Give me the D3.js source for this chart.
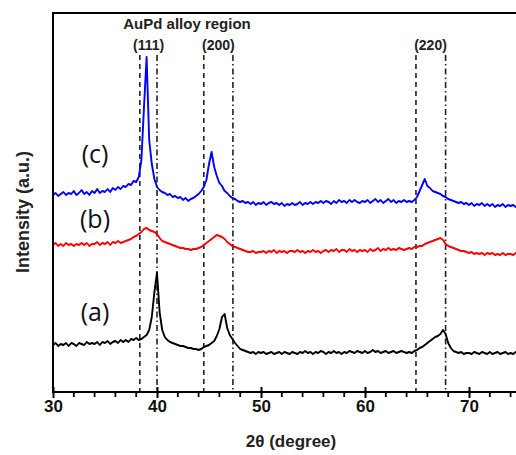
<!DOCTYPE html>
<html><head><meta charset="utf-8">
<script src="https://cdn.jsdelivr.net/npm/d3@7"></script>
<style>body{margin:0;background:#fff}svg{display:block}</style>
</head><body>
<svg id="chart" width="516" height="455"></svg>
<script>
// 2θ sampling grid: 30 to 75 step 0.25
const thetaStart = 30, thetaStep = 0.25;
const seriesC = [
197,199,196,198, 200,197,199,198, 201,197,199,202, 198,200,197,201, 199,203,199,201,
200,203,200,204, 202,205,203,206, 205,208,207,211, 210,215,232,285, 335,252,228,213,
205,202,200,199, 197,198,195,196, 194,195,192,194, 191,193,194,196, 198,201,205,212,
228,240,225,216, 209,206,201,199, 196,194,193,191, 190,191,189,190, 188,190,187,189,
188,190,187,189, 190,188,189,187, 189,186,188,187, 189,187,188,190, 187,189,188,190,
188,190,189,191, 189,191,190,188, 191,189,192,190, 191,189,192,190, 192,190,189,191,
190,192,189,191, 193,190,192,189, 191,193,190,192, 189,191,190,192, 190,191,190,192,
195,201,207,213, 206,204,201,200, 199,198,196,195, 193,192,191,190, 189,190,188,189,
187,189,186,188, 187,189,186,188, 186,188,185,187, 186,188,185,187, 186,187,185,186,
186];
const seriesB = [
147,149,146,148, 146,149,147,148, 146,148,147,149, 147,149,146,148, 148,150,147,149,
148,150,147,150, 149,151,149,150, 151,152,153,155, 156,158,160,163, 164,162,161,160,
158,154,151,150, 149,148,147,146, 145,144,144,143, 143,142,143,143, 144,145,147,149,
151,153,155,157, 156,155,153,150, 148,146,145,144, 143,142,141,140, 140,141,139,140,
140,141,139,141, 140,142,139,141, 140,141,139,141, 141,140,142,140, 141,139,141,140,
142,140,141,139, 141,142,140,142, 141,143,140,142, 142,140,143,141, 142,140,142,141,
142,140,143,141, 142,144,141,143, 142,144,142,143, 142,144,143,142, 143,144,143,145,
145,146,146,148, 149,150,151,152, 153,154,152,148, 146,145,144,143, 142,141,141,140,
139,140,138,139, 138,139,137,139, 138,139,137,138, 137,139,137,138, 138,137,139,138,
138];
const seriesA = [
47,49,46,48, 47,49,46,49, 48,46,49,48, 47,50,48,49, 48,50,47,50,
49,51,48,50, 51,49,52,50, 52,50,53,52, 54,52,53,55, 57,62,75,100,
119,80,62,55, 52,50,49,48, 47,46,46,45, 44,44,43,43, 42,43,45,46,
47,49,51,56, 63,75,78,64, 57,53,49,46, 43,42,41,40, 39,40,38,40,
39,40,38,39, 40,38,39,40, 38,40,39,38, 40,39,38,40, 39,41,39,40,
38,40,39,41, 40,38,40,39, 41,39,40,38, 40,39,41,40, 39,41,40,39,
41,39,40,42, 40,41,39,40, 41,39,40,41, 39,40,41,40, 39,40,39,41,
42,44,45,47, 49,51,53,55, 56,58,62,58, 49,44,41,40, 39,40,38,39,
39,38,40,39, 38,40,39,38, 40,38,39,40, 38,39,40,38, 39,38,40,39,
39];
const seriesNames = ["(a)", "(b)", "(c)"];
const seriesColors = ["#000000", "#ff0000", "#0000ff"];
const dashedLines = [38.35, 44.5, 64.9];
const dashDotLines = [40.0, 47.3, 67.75];
const planeLabels = ["(111)", "(200)", "(220)"];
const planeCenters = [39.2, 45.9, 66.3];
const xTickValues = [30, 40, 50, 60, 70];

const svg = d3.select("#chart");
const x = d3.scaleLinear().domain([30, 80]).range([53, 573]);
const y = d3.scaleLinear().domain([0, 380]).range([392, 12]);
const grid = seriesA.map((_, i) => thetaStart + i * thetaStep);

svg.append("defs").append("clipPath").attr("id", "pc")
  .append("rect").attr("x", 53).attr("y", 13).attr("width", 463).attr("height", 379);

const g = svg.append("g").attr("clip-path", "url(#pc)");
dashedLines.forEach(v => g.append("line")
  .attr("x1", x(v)).attr("x2", x(v)).attr("y1", 55).attr("y2", 392)
  .attr("stroke", "#222").attr("stroke-width", 1.6).attr("stroke-dasharray", "5,4"));
dashDotLines.forEach(v => g.append("line")
  .attr("x1", x(v)).attr("x2", x(v)).attr("y1", 55).attr("y2", 392)
  .attr("stroke", "#222").attr("stroke-width", 1.6).attr("stroke-dasharray", "6,3,1.5,3"));

const line = d3.line().x((d, i) => x(grid[i])).y(d => y(d));
[seriesA, seriesB, seriesC].forEach((s, k) => g.append("path")
  .attr("d", line(s)).attr("fill", "none")
  .attr("stroke", seriesColors[k]).attr("stroke-width", 1.9).attr("stroke-linejoin", "round"));

const font = "Liberation Sans, Arial, sans-serif";
const xAxis = d3.axisBottom(x).tickValues(xTickValues).tickSize(6).tickFormat(d3.format("d"));
const axG = svg.append("g").attr("transform", "translate(0,392)").call(xAxis);
axG.select(".domain").remove();
axG.selectAll(".tick line").attr("y1", -5).attr("y2", 6).attr("stroke", "#000").attr("stroke-width", 2);
axG.selectAll(".tick text").attr("y", 8).attr("font-family", font)
  .attr("font-weight", "bold").attr("font-size", 17).attr("fill", "#111");
const minor = d3.range(30, 76, 2).filter(v => v % 10 !== 0);
axG.selectAll(".minor").data(minor).enter().append("line")
  .attr("x1", d => x(d)).attr("x2", d => x(d)).attr("y1", 0).attr("y2", 5)
  .attr("stroke", "#000").attr("stroke-width", 1.8);
svg.append("line").attr("x1", 53).attr("x2", 516).attr("y1", 392).attr("y2", 392).attr("stroke", "#000").attr("stroke-width", 2);
svg.append("line").attr("x1", 53).attr("x2", 53).attr("y1", 13).attr("y2", 393).attr("stroke", "#000").attr("stroke-width", 2);
svg.append("line").attr("x1", 52).attr("x2", 516).attr("y1", 13).attr("y2", 13).attr("stroke", "#000").attr("stroke-width", 2);

svg.append("text").attr("x", 187).attr("y", 29).attr("text-anchor", "middle")
  .attr("font-family", font).attr("font-weight", "bold").attr("font-size", 15).attr("fill", "#222").text("AuPd alloy region");
planeLabels.forEach((t, i) => svg.append("text").attr("x", x(planeCenters[i])).attr("y", 50)
  .attr("text-anchor", "middle").attr("font-family", font).attr("font-weight", "bold")
  .attr("font-size", 14).attr("fill", "#222").text(t));
const labelY = [321, 228, 163];
seriesNames.forEach((t, i) => svg.append("text").attr("x", 95).attr("y", labelY[i])
  .attr("text-anchor", "middle").attr("font-family", "Open Sans, sans-serif")
  .attr("font-size", 25).attr("fill", "#111").text(t));
svg.append("text").attr("transform", "translate(29,212) rotate(-90)").attr("text-anchor", "middle")
  .attr("font-family", font).attr("font-weight", "bold").attr("font-size", 18).attr("fill", "#222")
  .text("Intensity (a.u.)");
svg.append("text").attr("x", 291).attr("y", 447).attr("text-anchor", "middle")
  .attr("font-family", font).attr("font-weight", "bold").attr("font-size", 17).attr("fill", "#222")
  .text("2θ (degree)");
</script>
</body></html>
